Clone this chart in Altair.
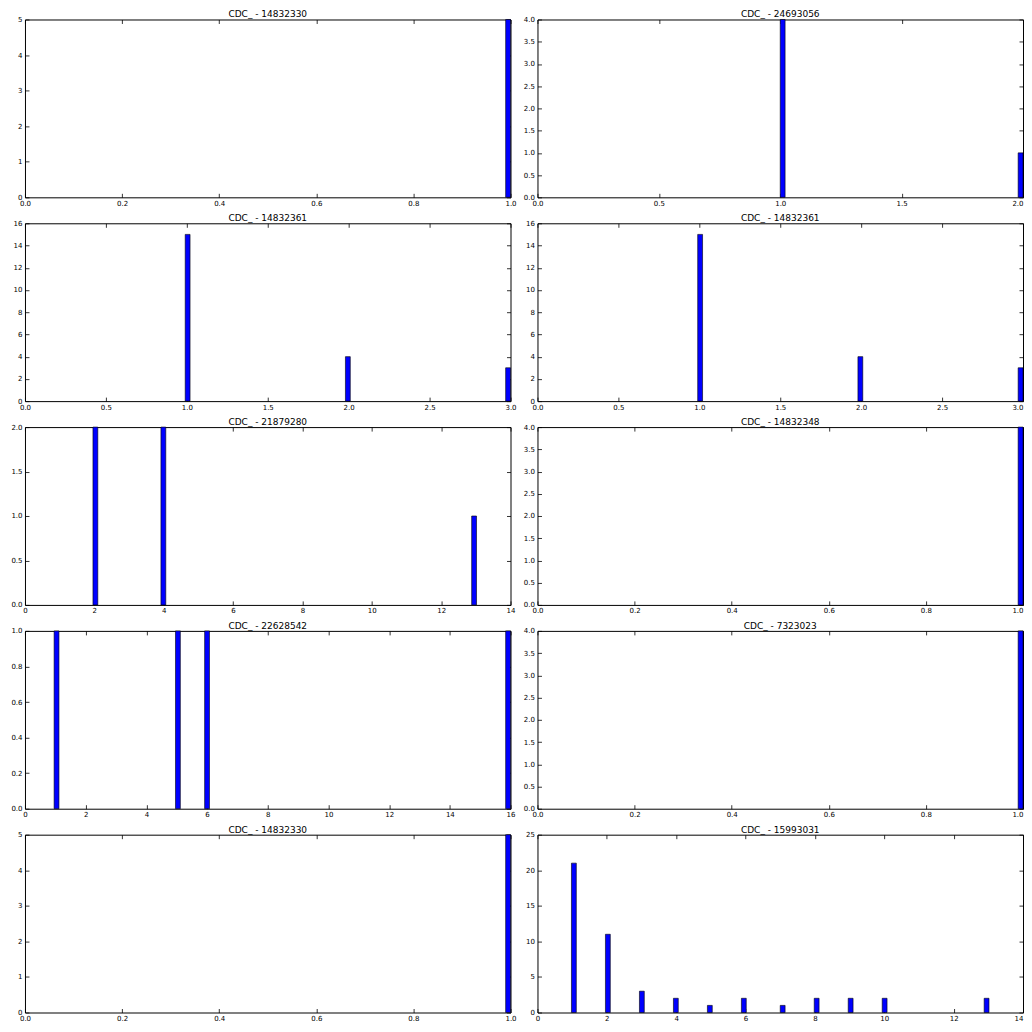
import math
import altair as alt
import pandas as pd

# ---- data -------------------------------------------------------------
titles = [
    "CDC_ - 14832330", "CDC_ - 24693056",
    "CDC_ - 14832361", "CDC_ - 14832361",
    "CDC_ - 21879280", "CDC_ - 14832348",
    "CDC_ - 22628542", "CDC_ - 7323023",
    "CDC_ - 14832330", "CDC_ - 15993031",
]
x_max = [1, 2, 3, 3, 14, 1, 16, 1, 1, 14]
x_step = [0.2, 0.5, 0.5, 0.5, 2, 0.2, 2, 0.2, 0.2, 2]
x_fmt = [".1f", ".1f", ".1f", ".1f", "d", ".1f", "d", ".1f", ".1f", "d"]
y_max = [5, 4, 16, 16, 2, 4, 1, 4, 5, 25]
y_step = [1, 0.5, 2, 2, 0.5, 0.5, 0.2, 0.5, 1, 5]
y_fmt = ["d", ".1f", "d", "d", ".1f", ".1f", ".1f", ".1f", "d", "d"]
values = [
    [1], [1, 2], [1, 2, 3], [1, 2, 3], [2, 4, 13], [1],
    [1, 5, 6, 16], [1], [1], [1, 2, 3, 4, 5, 6, 7, 8, 9, 10, 13],
]
counts = [
    [5], [4, 1], [15, 4, 3], [15, 4, 3], [2, 2, 1], [4],
    [1, 1, 1, 1], [4], [5], [21, 11, 3, 2, 1, 2, 1, 2, 2, 2, 2],
]
N_BINS = 100

FONT = "DejaVu Sans"
W, H = 486, 178
TICK = alt.ExprRef(expr="-4")


def tick_values(vmax, step):
    n = int(round(vmax / step))
    return [round(i * step, 6) for i in range(n + 1)]


def panel(i):
    w = x_max[i] / N_BINS
    x0, x1 = [], []
    for v in values[i]:
        idx = min(int(math.floor(v / w + 1e-9)), N_BINS - 1)
        x0.append(idx * w)
        x1.append(idx * w + w)
    df = pd.DataFrame({"x0": x0, "x1": x1, "count": counts[i]})
    xt = tick_values(x_max[i], x_step[i])
    yt = tick_values(y_max[i], y_step[i])
    xs = alt.Scale(domain=[0, x_max[i]], nice=False, zero=False, padding=0)
    ys = alt.Scale(domain=[0, y_max[i]], nice=False, padding=0)
    x_axis = dict(orient="bottom", values=xt, format=x_fmt[i],
                  minExtent=10, maxExtent=10, labelPadding=6)
    if i % 2 == 1:  # right column: keep the last label inside the page
        x_axis["labelAlign"] = {
            "condition": {"test": f"datum.value >= {x_max[i]} - 1e-9", "value": "right"},
            "value": "center",
        }
    base = alt.Chart(df)
    bars = base.mark_bar(color="#0000ff", stroke="black", strokeWidth=0.6).encode(
        x=alt.X("x0:Q", scale=xs, title=None, axis=alt.Axis(**x_axis)),
        x2="x1:Q",
        y=alt.Y("count:Q", scale=ys, title=None,
                axis=alt.Axis(orient="left", values=yt, format=y_fmt[i],
                              minExtent=14, maxExtent=14, labelPadding=7)),
        y2=alt.datum(0),
    )
    mirror = base.mark_bar(opacity=0).encode(
        x=alt.X("x0:Q", scale=xs, title=None,
                axis=alt.Axis(orient="top", values=xt, labels=False,
                              minExtent=0, maxExtent=0)),
        x2="x1:Q",
        y=alt.Y("count:Q", scale=ys, title=None,
                axis=alt.Axis(orient="right", values=yt, labels=False,
                              minExtent=0, maxExtent=0)),
        y2=alt.datum(0),
    )
    head = alt.Chart(pd.DataFrame({"t": [titles[i]]})).mark_text(
        font=FONT, fontSize=9, color="black", align="center", baseline="middle"
    ).encode(text="t:N", x=alt.value(W / 2), y=alt.value(-5))
    return alt.layer(bars, mirror, head).resolve_axis(
        x="independent", y="independent"
    ).properties(width=W, height=H)


chart = alt.concat(
    *[panel(i) for i in range(10)],
    columns=2,
    spacing={"row": 26, "column": 27},
    bounds="flush",
).properties(
    padding={"left": 2, "top": 1, "right": 0, "bottom": 0},
    background="white",
).configure_view(
    stroke="black", strokeWidth=1
).configure_axis(
    domain=False, grid=False,
    tickColor="black", tickSize=TICK, tickWidth=0.8,
    labelFont=FONT, labelFontSize=7, labelColor="black",
    labelFlush=False, labelOverlap=False,
)

chart.save("out.html", embed_options={"renderer": "svg", "actions": False})
